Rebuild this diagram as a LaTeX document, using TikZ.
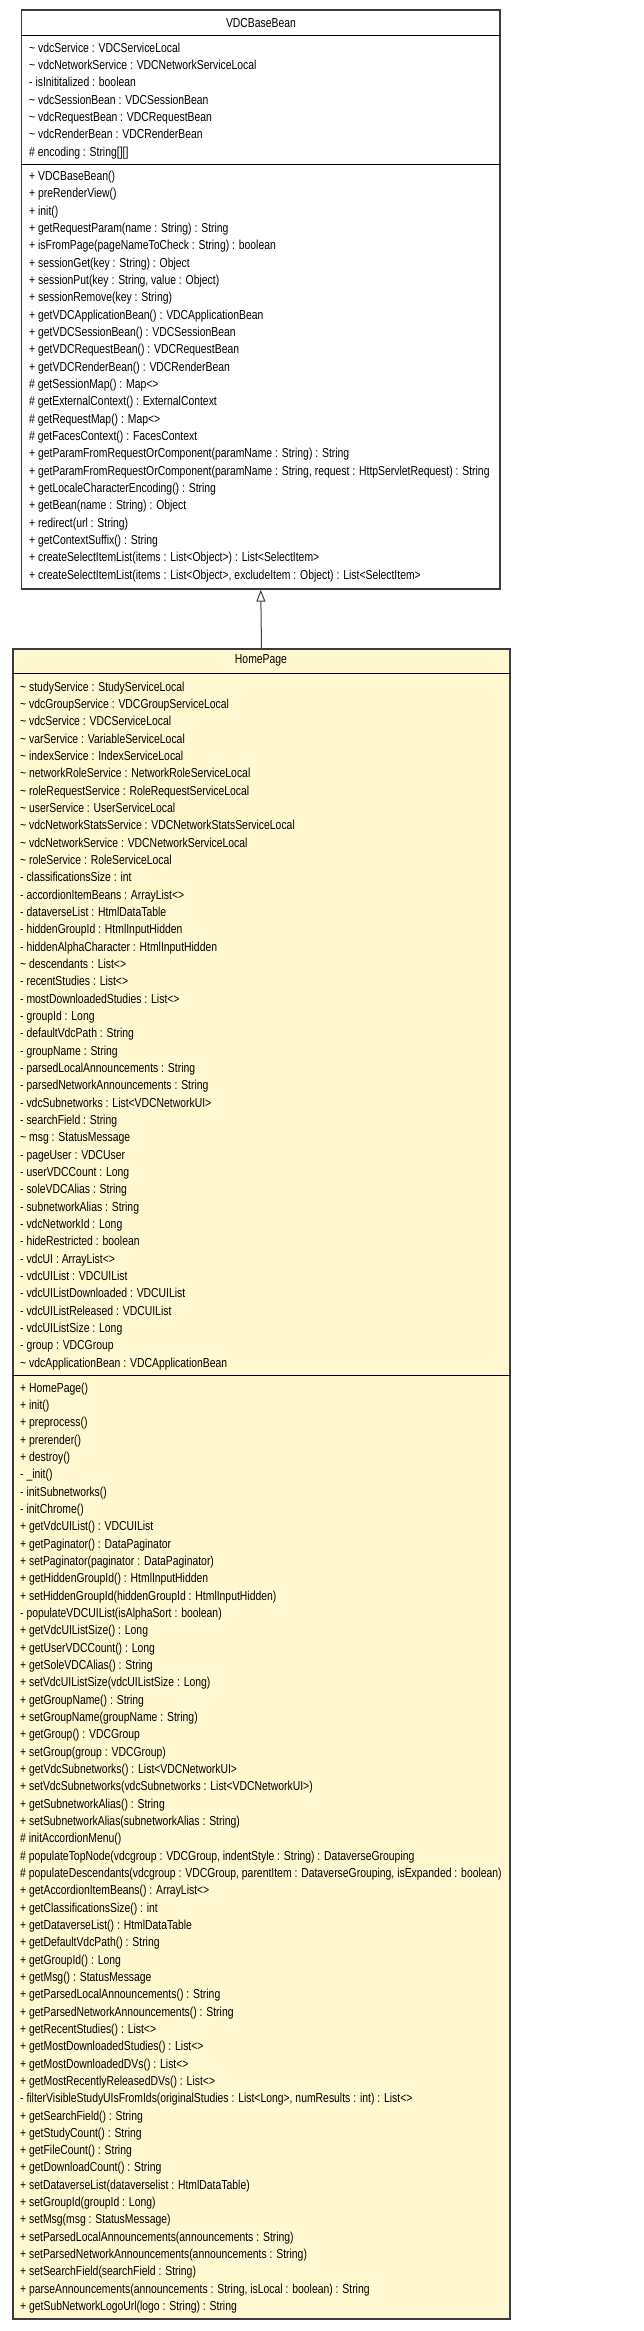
\documentclass[tikz,border=0pt]{standalone}
\usepackage{fontspec}
\setmainfont{Liberation Sans}[FakeStretch=0.80]
\usetikzlibrary{arrows.meta,positioning}
\definecolor{umlline}{HTML}{3C3C3C}
\definecolor{umlfill}{HTML}{FFF8D0}
\tikzset{
  classbox/.style={draw=umlline, line width=1.3pt, inner sep=0pt},
  classtitle/.style={inner sep=0pt, font=\fontsize{13}{17.33}\selectfont},
  memberlist/.style={align=left, anchor=north west, inner sep=0pt,
                     font=\fontsize{13}{17.33}\selectfont},
  sepline/.style={line width=1.6pt, color=black},
  inherit/.style={-{Triangle[open,length=12pt,width=9pt]}, line width=1pt, color=umlline}
}
\begin{document}
\begin{tikzpicture}[x=1pt,y=-1pt]
  \useasboundingbox (0,0) rectangle (643,2331);

  % Super class
  \node[classbox, fill=white, minimum width=478.5pt, minimum height=579pt] (base) at (260.75,299.5) {};
  \node[classtitle] (basetitle) at (261,23) {VDCBaseBean};
  \draw[sepline] ([yshift=-26pt]base.north west) -- ([yshift=-26pt]base.north east);
  \draw[sepline] ([yshift=-155pt]base.north west) -- ([yshift=-155pt]base.north east);
  \node[memberlist] (baseattr) at (29,42.5) {%
    \textasciitilde{} vdcService : VDCServiceLocal\\
    \textasciitilde{} vdcNetworkService : VDCNetworkServiceLocal\\
    - isInititalized : boolean\\
    \textasciitilde{} vdcSessionBean : VDCSessionBean\\
    \textasciitilde{} vdcRequestBean : VDCRequestBean\\
    \textasciitilde{} vdcRenderBean : VDCRenderBean\\
    \# encoding : String[][]};
  \node[memberlist] (baseops) at (29,171) {%
    + VDCBaseBean()\\
    + preRenderView()\\
    + init()\\
    + getRequestParam(name : String) : String\\
    + isFromPage(pageNameToCheck : String) : boolean\\
    + sessionGet(key : String) : Object\\
    + sessionPut(key : String, value : Object)\\
    + sessionRemove(key : String)\\
    + getVDCApplicationBean() : VDCApplicationBean\\
    + getVDCSessionBean() : VDCSessionBean\\
    + getVDCRequestBean() : VDCRequestBean\\
    + getVDCRenderBean() : VDCRenderBean\\
    \# getSessionMap() : Map<>\\
    \# getExternalContext() : ExternalContext\\
    \# getRequestMap() : Map<>\\
    \# getFacesContext() : FacesContext\\
    + getParamFromRequestOrComponent(paramName : String) : String\\
    + getParamFromRequestOrComponent(paramName : String, request : HttpServletRequest) : String\\
    + getLocaleCharacterEncoding() : String\\
    + getBean(name : String) : Object\\
    + redirect(url : String)\\
    + getContextSuffix() : String\\
    + createSelectItemList(items : List<Object>) : List<SelectItem>\\
    + createSelectItemList(items : List<Object>, excludeItem : Object) : List<SelectItem>};

  % Sub class
  \node[classbox, fill=umlfill, minimum width=497pt, minimum height=1670pt] (home) at (261.5,1484) {};
  \node[classtitle] (hometitle) at (261,660) {HomePage};
  \draw[sepline] ([yshift=-25pt]home.north west) -- ([yshift=-25pt]home.north east);
  \draw[sepline] ([yshift=-727pt]home.north west) -- ([yshift=-727pt]home.north east);
  \node[memberlist] (homeattr) at (20,681.5) {%
    \textasciitilde{} studyService : StudyServiceLocal\\
    \textasciitilde{} vdcGroupService : VDCGroupServiceLocal\\
    \textasciitilde{} vdcService : VDCServiceLocal\\
    \textasciitilde{} varService : VariableServiceLocal\\
    \textasciitilde{} indexService : IndexServiceLocal\\
    \textasciitilde{} networkRoleService : NetworkRoleServiceLocal\\
    \textasciitilde{} roleRequestService : RoleRequestServiceLocal\\
    \textasciitilde{} userService : UserServiceLocal\\
    \textasciitilde{} vdcNetworkStatsService : VDCNetworkStatsServiceLocal\\
    \textasciitilde{} vdcNetworkService : VDCNetworkServiceLocal\\
    \textasciitilde{} roleService : RoleServiceLocal\\
    - classificationsSize : int\\
    - accordionItemBeans : ArrayList<>\\
    - dataverseList : HtmlDataTable\\
    - hiddenGroupId : HtmlInputHidden\\
    - hiddenAlphaCharacter : HtmlInputHidden\\
    \textasciitilde{} descendants : List<>\\
    - recentStudies : List<>\\
    - mostDownloadedStudies : List<>\\
    - groupId : Long\\
    - defaultVdcPath : String\\
    - groupName : String\\
    - parsedLocalAnnouncements : String\\
    - parsedNetworkAnnouncements : String\\
    - vdcSubnetworks : List<VDCNetworkUI>\\
    - searchField : String\\
    \textasciitilde{} msg : StatusMessage\\
    - pageUser : VDCUser\\
    - userVDCCount : Long\\
    - soleVDCAlias : String\\
    - subnetworkAlias : String\\
    - vdcNetworkId : Long\\
    - hideRestricted : boolean\\
    - vdcUI : ArrayList<>\\
    - vdcUIList : VDCUIList\\
    - vdcUIListDownloaded : VDCUIList\\
    - vdcUIListReleased : VDCUIList\\
    - vdcUIListSize : Long\\
    - group : VDCGroup\\
    \textasciitilde{} vdcApplicationBean : VDCApplicationBean};
  \node[memberlist] (homeops) at (20,1382.5) {%
    + HomePage()\\
    + init()\\
    + preprocess()\\
    + prerender()\\
    + destroy()\\
    - \_init()\\
    - initSubnetworks()\\
    - initChrome()\\
    + getVdcUIList() : VDCUIList\\
    + getPaginator() : DataPaginator\\
    + setPaginator(paginator : DataPaginator)\\
    + getHiddenGroupId() : HtmlInputHidden\\
    + setHiddenGroupId(hiddenGroupId : HtmlInputHidden)\\
    - populateVDCUIList(isAlphaSort : boolean)\\
    + getVdcUIListSize() : Long\\
    + getUserVDCCount() : Long\\
    + getSoleVDCAlias() : String\\
    + setVdcUIListSize(vdcUIListSize : Long)\\
    + getGroupName() : String\\
    + setGroupName(groupName : String)\\
    + getGroup() : VDCGroup\\
    + setGroup(group : VDCGroup)\\
    + getVdcSubnetworks() : List<VDCNetworkUI>\\
    + setVdcSubnetworks(vdcSubnetworks : List<VDCNetworkUI>)\\
    + getSubnetworkAlias() : String\\
    + setSubnetworkAlias(subnetworkAlias : String)\\
    \# initAccordionMenu()\\
    \# populateTopNode(vdcgroup : VDCGroup, indentStyle : String) : DataverseGrouping\\
    \# populateDescendants(vdcgroup : VDCGroup, parentItem : DataverseGrouping, isExpanded : boolean)\\
    + getAccordionItemBeans() : ArrayList<>\\
    + getClassificationsSize() : int\\
    + getDataverseList() : HtmlDataTable\\
    + getDefaultVdcPath() : String\\
    + getGroupId() : Long\\
    + getMsg() : StatusMessage\\
    + getParsedLocalAnnouncements() : String\\
    + getParsedNetworkAnnouncements() : String\\
    + getRecentStudies() : List<>\\
    + getMostDownloadedStudies() : List<>\\
    + getMostDownloadedDVs() : List<>\\
    + getMostRecentlyReleasedDVs() : List<>\\
    - filterVisibleStudyUIsFromIds(originalStudies : List<Long>, numResults : int) : List<>\\
    + getSearchField() : String\\
    + getStudyCount() : String\\
    + getFileCount() : String\\
    + getDownloadCount() : String\\
    + setDataverseList(dataverselist : HtmlDataTable)\\
    + setGroupId(groupId : Long)\\
    + setMsg(msg : StatusMessage)\\
    + setParsedLocalAnnouncements(announcements : String)\\
    + setParsedNetworkAnnouncements(announcements : String)\\
    + setSearchField(searchField : String)\\
    + parseAnnouncements(announcements : String, isLocal : boolean) : String\\
    + getSubNetworkLogoUrl(logo : String) : String};

  % Generalization
  \draw[inherit] (home.north) -- (base.south);
\end{tikzpicture}
\end{document}
